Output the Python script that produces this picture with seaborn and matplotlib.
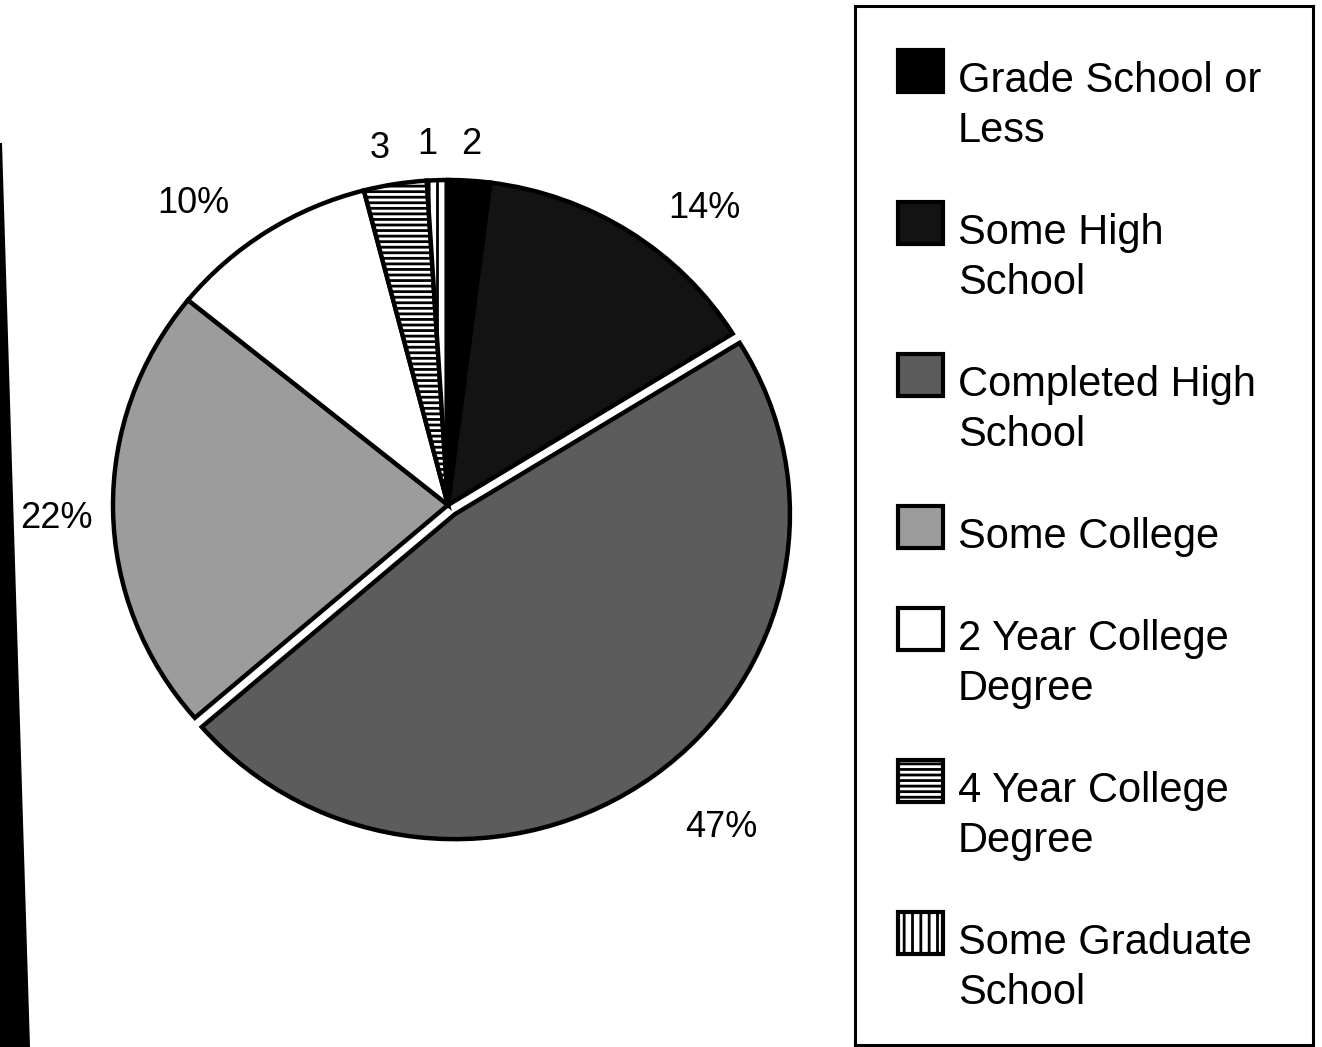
import numpy as np
import matplotlib.pyplot as plt
import seaborn as sns
from matplotlib.patches import Rectangle, Polygon

sns.set_theme(style="white")
plt.rcParams["font.family"] = ["Liberation Sans", "DejaVu Sans"]
plt.rcParams["text.color"] = "black"
plt.rcParams["hatch.linewidth"] = 2.0

## --- Data
categories = ["Grade School or\nLess", "Some High\nSchool", "Completed High\nSchool",
              "Some College", "2 Year College\nDegree", "4 Year College\nDegree",
              "Some Graduate\nSchool"]
percents = [2, 14, 47, 22, 10, 3, 1]
pct_labels = ["2", "14%", "47%", "22%", "10%", "3", "1"]
## ---

## --- Style
fills = ["#000000", "#131313", "#5c5c5c", "#9c9c9c", "#ffffff", "#ffffff", "#ffffff"]
hatches = ["", "", "", "", "", "---", "||"]
explode = [0, 0, 0.035, 0, 0, 0, 0]
label_dist = [1.11, 1.19, 1.285, 1.17, 1.2, 1.117, 1.11]
label_nudge = [0, -7.3, 3.1, 1.2, 6.6, 1.4, 1.3]
## ---

W, H = 1322, 1047
CX, CY = 448, 505      # pie centre, pixels from top-left
RX, RY = 335, 325      # scanned pie is a touch wider than tall

fig = plt.figure(figsize=(W / 100, H / 100), dpi=100)
fig.patch.set_facecolor("white")

ax = fig.add_axes([0, 0, 1, 1])
wedges, _ = ax.pie(percents, startangle=90, counterclock=False, colors=fills,
                   hatch=hatches, explode=explode,
                   wedgeprops=dict(edgecolor="black", linewidth=3.2, joinstyle="miter"))
ax.set_aspect("auto")
ax.set_xlim(-CX / RX, (W - CX) / RX)
ax.set_ylim(-(H - CY) / RY, CY / RY)
ax.axis("off")

for w, txt, d, nudge in zip(wedges, pct_labels, label_dist, label_nudge):
    ang = np.deg2rad((w.theta1 + w.theta2) / 2 + nudge)
    ax.text(d * np.cos(ang), d * np.sin(ang), txt, ha="center", va="center", fontsize=26)

## --- legend box, drawn in pixel units
lax = fig.add_axes([855 / W, 1 - 1045 / H, (1313 - 855) / W, (1045 - 6) / H])
lax.set_xlim(855, 1313)
lax.set_ylim(1045, 6)
lax.set_xticks([])
lax.set_yticks([])
lax.set_facecolor("white")
for s in lax.spines.values():
    s.set_visible(True)
    s.set_color("black")
    s.set_linewidth(2.2)

top = 50
for label, fc, h in zip(categories, fills, hatches):
    lax.add_patch(Rectangle((898, top), 45, 42, facecolor=fc, edgecolor="black",
                            linewidth=3, hatch=h))
    lines = label.split("\n")
    for i, line in enumerate(lines):
        lax.text(958, top + 42 + 50 * i, line, fontsize=30, ha="left", va="baseline")
    top += 50 * len(lines) + 52

# dark scanner edge down the left side
edge = [(0, 143), (2, 143), (30, H), (0, H)]
fig.add_artist(Polygon([(x / W, 1 - y / H) for x, y in edge], closed=True,
                       transform=fig.transFigure, facecolor="black", edgecolor="none", zorder=5))

fig.savefig("out.png", dpi=100, facecolor="white")
